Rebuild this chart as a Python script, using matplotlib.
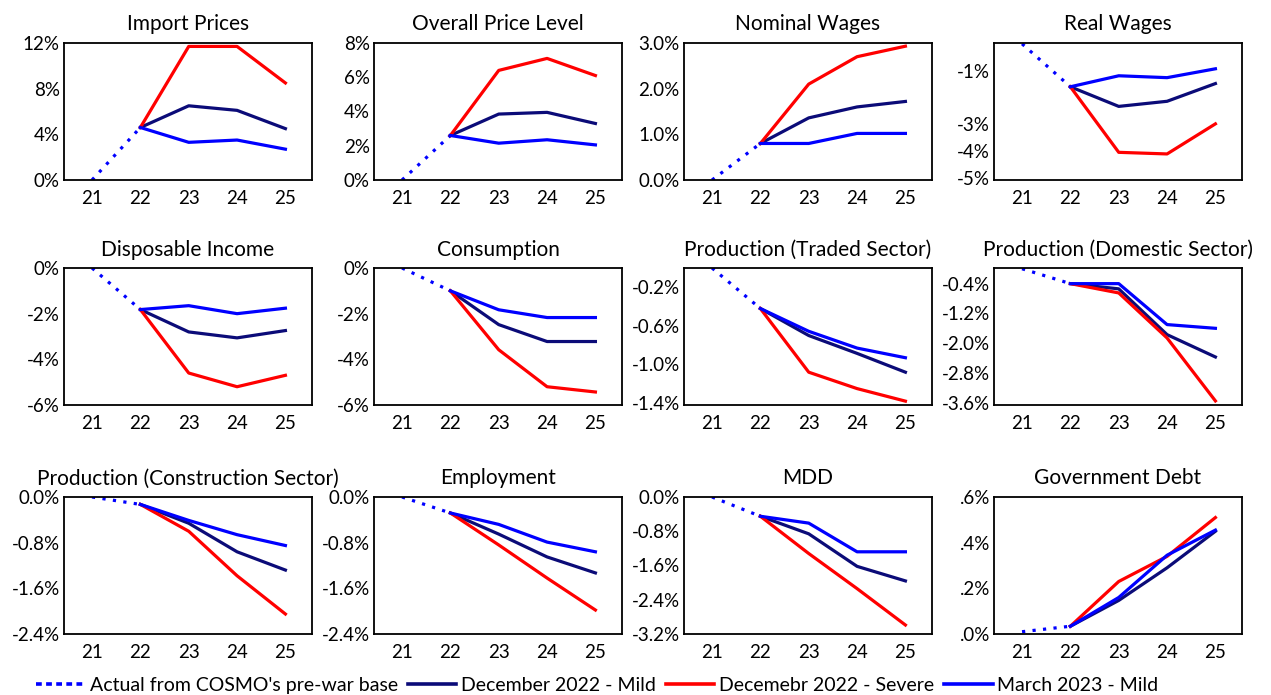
import matplotlib
matplotlib.use("Agg")
import matplotlib.pyplot as plt
from matplotlib.lines import Line2D

plt.rcParams['font.family'] = ['Lato', 'DejaVu Sans']

years_actual = [21, 22]
years_scen = [22, 23, 24, 25]
xticks = [21, 22, 23, 24, 25]

titles = ["Import Prices", "Overall Price Level", "Nominal Wages", "Real Wages",
          "Disposable Income", "Consumption", "Production (Traded Sector)",
          "Production (Domestic Sector)", "Production (Construction Sector)",
          "Employment", "MDD", "Government Debt"]

# values in percent
actual = [[0, 4.6], [0, 2.6], [0, 0.8], [0, -1.6],
          [0, -1.82], [0, -1.0], [0, -0.42], [0, -0.4],
          [0, -0.13], [0, -0.28], [0, -0.45], [0.01, 0.034]]

dec_mild = [[4.6, 6.5, 6.1, 4.5], [2.6, 3.85, 3.95, 3.3], [0.8, 1.36, 1.6, 1.72], [-1.6, -2.33, -2.14, -1.48],
            [-1.82, -2.8, -3.06, -2.74], [-1.0, -2.48, -3.22, -3.22], [-0.42, -0.70, -0.885, -1.08],
            [-0.4, -0.54, -1.77, -2.37],
            [-0.13, -0.46, -0.96, -1.28], [-0.28, -0.65, -1.05, -1.33], [-0.45, -0.86, -1.62, -1.96],
            [0.034, 0.147, 0.29, 0.45]]

dec_severe = [[4.6, 11.7, 11.7, 8.5], [2.6, 6.4, 7.1, 6.1], [0.8, 2.1, 2.7, 2.93], [-1.6, -4.04, -4.1, -2.98],
              [-1.82, -4.6, -5.2, -4.7], [-1.0, -3.58, -5.2, -5.43], [-0.42, -1.08, -1.25, -1.38],
              [-0.4, -0.65, -1.86, -3.55],
              [-0.13, -0.6, -1.38, -2.05], [-0.28, -0.84, -1.42, -1.98], [-0.45, -1.32, -2.14, -2.99],
              [0.034, 0.23, 0.34, 0.51]]

mar_mild = [[4.6, 3.3, 3.5, 2.7], [2.6, 2.15, 2.35, 2.05], [0.8, 0.8, 1.02, 1.02], [-1.6, -1.19, -1.26, -0.93],
            [-1.82, -1.65, -2.0, -1.76], [-1.0, -1.83, -2.17, -2.17], [-0.42, -0.656, -0.83, -0.93],
            [-0.4, -0.4, -1.5, -1.6],
            [-0.13, -0.41, -0.66, -0.85], [-0.28, -0.48, -0.79, -0.96], [-0.45, -0.61, -1.28, -1.28],
            [0.034, 0.16, 0.345, 0.455]]

ylims = [(0, 12), (0, 8), (0, 3), (-5.07, 0.03),
         (-6, 0), (-6, 0), (-1.42, 0), (-3.66, 0.02),
         (-2.4, 0), (-2.4, 0), (-3.2, 0), (0, 0.6)]

yticks = [[0, 4, 8, 12], [0, 2, 4, 6, 8], [0, 1, 2, 3], [-5, -4, -3, -1],
          [-6, -4, -2, 0], [-6, -4, -2, 0], [-1.4, -1.0, -0.6, -0.2], [-3.6, -2.8, -2.0, -1.2, -0.4],
          [-2.4, -1.6, -0.8, 0], [-2.4, -1.6, -0.8, 0], [-3.2, -2.4, -1.6, -0.8, 0], [0, 0.2, 0.4, 0.6]]

ylabels = [["0%", "4%", "8%", "12%"], ["0%", "2%", "4%", "6%", "8%"], ["0.0%", "1.0%", "2.0%", "3.0%"],
           ["-5%", "-4%", "-3%", "-1%"],
           ["-6%", "-4%", "-2%", "0%"], ["-6%", "-4%", "-2%", "0%"], ["-1.4%", "-1.0%", "-0.6%", "-0.2%"],
           ["-3.6%", "-2.8%", "-2.0%", "-1.2%", "-0.4%"],
           ["-2.4%", "-1.6%", "-0.8%", "0.0%"], ["-2.4%", "-1.6%", "-0.8%", "0.0%"],
           ["-3.2%", "-2.4%", "-1.6%", "-0.8%", "0.0%"], [".0%", ".2%", ".4%", ".6%"]]

W, H = 1271, 695
col_left = [64, 374, 684, 994]
row_top = [43, 268, 497]
ax_w, ax_h = 248, 137

fig = plt.figure(figsize=(W / 100, H / 100), dpi=100)

c_navy = "#0b0b78"
c_red = "#ff0000"
c_blue = "#0000ff"
lw = 2.3

for i in range(12):
    r, c = divmod(i, 4)
    left = col_left[c] / W
    bottom = 1 - (row_top[r] + ax_h) / H
    ax = fig.add_axes([left, bottom, ax_w / W, ax_h / H])

    ax.plot(years_actual, actual[i], color=c_blue, lw=lw, linestyle=(0, (1, 2.3)))
    ax.plot(years_scen, dec_mild[i], color=c_navy, lw=lw)
    ax.plot(years_scen, dec_severe[i], color=c_red, lw=lw)
    ax.plot(years_scen, mar_mild[i], color=c_blue, lw=lw)

    ax.set_xlim(20.42, 25.55)
    ax.set_ylim(*ylims[i])
    ax.set_xticks(xticks)
    ax.set_xticklabels([str(x) for x in xticks])
    ax.set_yticks(yticks[i])
    ax.set_yticklabels(ylabels[i])
    ax.tick_params(axis='both', length=0, labelsize=13.5)
    ax.tick_params(axis='x', pad=7)
    ax.tick_params(axis='y', pad=3)
    for sp in ax.spines.values():
        sp.set_linewidth(1.3)
        sp.set_color("black")
    ax.set_title(titles[i], fontsize=15, pad=9)

handles = [Line2D([], [], color=c_blue, lw=2.6, linestyle=(0, (1.6, 1.2))),
           Line2D([], [], color=c_navy, lw=2.6),
           Line2D([], [], color=c_red, lw=2.6),
           Line2D([], [], color=c_blue, lw=2.6)]
labels = ["Actual from COSMO's pre-war base", "December 2022 - Mild",
          "Decemebr 2022 - Severe", "March 2023 - Mild"]
fig.legend(handles, labels, loc='lower center', bbox_to_anchor=(0.47, -0.024), ncol=4,
           frameon=False, fontsize=14, handlelength=2.5, columnspacing=0.5, handletextpad=0.25)

fig.savefig("out.png", dpi=100)
